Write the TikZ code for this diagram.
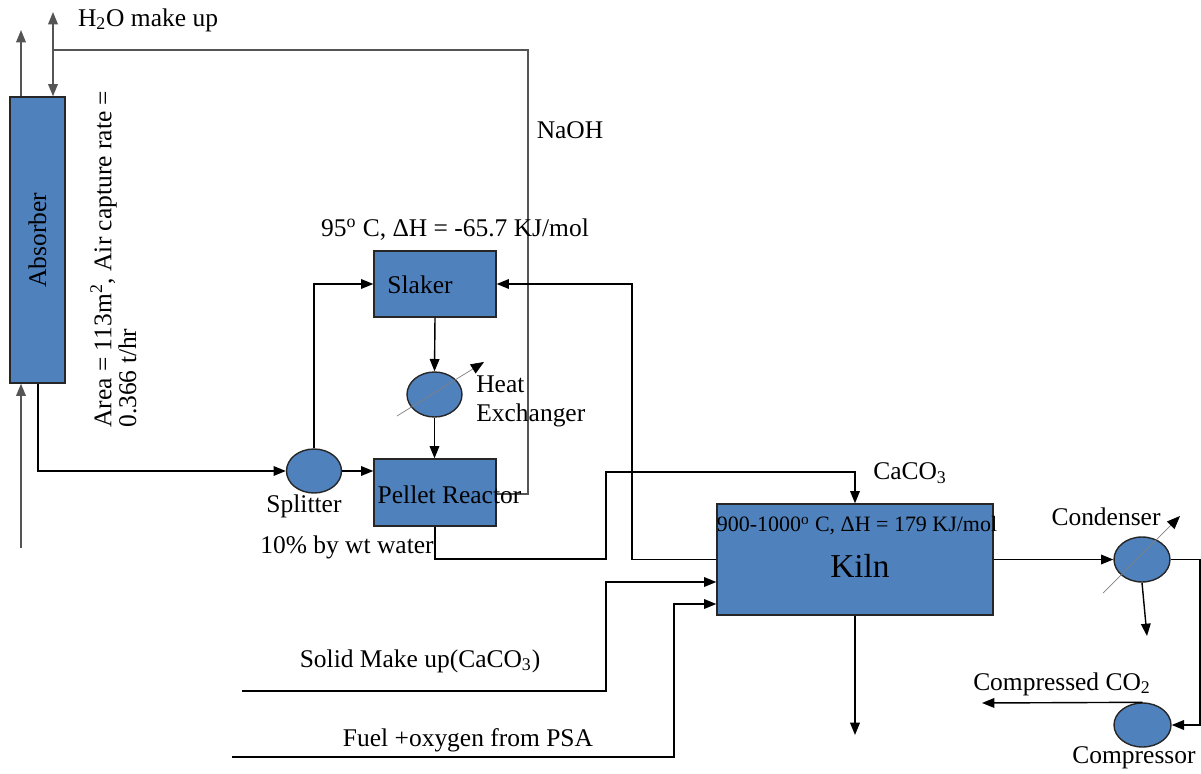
\documentclass[tikz,border=0pt]{standalone}
\usepackage{fontspec}
\setmainfont{Liberation Serif}
\usetikzlibrary{arrows.meta,shapes.geometric,calc}
\definecolor{boxblue}{HTML}{4F81BD}
\definecolor{lgray}{HTML}{555555}
\begin{document}
\begin{tikzpicture}[x=0.02cm,y=-0.02cm,
  unit/.style={draw=black!85,fill=boxblue,line width=0.8pt,inner sep=0pt},
  vessel/.style={unit,rectangle},
  round/.style={unit,ellipse},
  lbl/.style={font=\fontsize{14.5}{16}\selectfont,inner sep=0pt},
  flow/.style={line width=0.8pt,-{Triangle[length=7pt,width=5.5pt]}},
  pipe/.style={line width=0.8pt},
  gflow/.style={line width=0.8pt,draw=lgray},
  tflow/.style={line width=0.4pt,draw=gray,-{Triangle[length=7.5pt,width=6pt,color=black]}}
]
\useasboundingbox (0,0) rectangle (1201,774);

% units
\node[vessel,minimum width=1.1cm,minimum height=5.72cm] (absorber) at (37.5,240) {};
\node[lbl,rotate=90] at (absorber) {Absorber};
\node[vessel,minimum width=2.44cm,minimum height=1.32cm] (slaker) at (435,284) {};
\node[vessel,minimum width=2.44cm,minimum height=1.34cm] (pellet) at (435,492.5) {};
\node[vessel,minimum width=5.52cm,minimum height=2.22cm] (kiln) at (855,559.5) {};
\node[round,minimum width=1.1cm,minimum height=0.88cm] (splitter) at (314,471) {};
\node[round,minimum width=1.1cm,minimum height=0.9cm] (hx) at (434.5,394.5) {};
\node[round,minimum width=1.12cm,minimum height=0.9cm] (cond) at (1142,559.5) {};
\node[round,minimum width=1.14cm,minimum height=0.88cm] (comp) at (1142.5,725) {};

% coordinates
\coordinate (a1) at (21,30);
\coordinate (h2otop) at (53,12);
\coordinate (n1) at (53,50);
\coordinate (n2) at (528,494);
\coordinate (airin) at (21,548);
\coordinate (aout) at (38,472);
\coordinate (p1) at (606,559);
\coordinate (p2) at (606,472);
\coordinate (k1) at (632,559.5);
\coordinate (s0) at (242,691);
\coordinate (s1) at (606,691);
\coordinate (f0) at (232,757);
\coordinate (f1) at (674,757);
\coordinate (kout) at (855,735);
\coordinate (c1) at (1200,559.5);
\coordinate (cdrop) at (1147,636);
\coordinate (co2) at (982,703);

% connectors
\draw[flow,lgray] (absorber.north -| a1) -- (a1);
\draw[gflow,{Triangle[length=7pt,width=5.5pt]}-{Triangle[length=7pt,width=5.5pt]}] (h2otop) -- (absorber.north -| h2otop);
\draw[gflow] (n1) -| (n2) -- (pellet.east |- n2);
\draw[flow,lgray] (airin) -- (absorber.south -| airin);
\draw[flow] (absorber.south -| aout) |- (splitter.west);
\draw[flow] (splitter.north) |- (slaker.west);
\draw[flow] (splitter.east) -- (splitter.east -| pellet.west);
\draw[flow] (slaker.south) -- (hx.north);
\draw[flow] (hx.south) -- (hx.south |- pellet.north);
\draw[tflow] ($(hx)+(-37.5,21.5)$) -- ($(hx)+(49.5,-32.5)$);
\draw[flow] (pellet.south) |- (p1) -- (p2) -| (kiln.north);
\draw[flow] (kiln.west) -- (k1) |- (slaker.east);
\draw[flow] (s0) -- (s1) |- ($(kiln.west)+(0,22.5)$);
\draw[flow] (f0) -- (f1) |- ($(kiln.west)+(0,44.5)$);
\draw[flow] (kiln.south) -- (kout);
\draw[flow] (kiln.east) -- (cond.west);
\draw[tflow] ($(cond)+(-39,33.5)$) -- ($(cond)+(38,-43.5)$);
\draw[flow] (cond.south) -- (cdrop);
\draw[flow] (cond.east) -- (c1) |- (comp.east);
\draw[flow] (comp.north) -- (co2);

% labels
\node[lbl] (lh2o) at (148,20) {H\textsubscript{2}O make up};
\node[lbl] (lnaoh) at (570,130) {NaOH};
\node[lbl] (lslk) at (455,230) {95\textsuperscript{o} C, ΔH = -65.7 KJ/mol};
\node[lbl,rotate=90,anchor=north west,align=left,font=\fontsize{14.5}{11.5}\selectfont] (larea) at (90,428) {Area = 113m\textsuperscript{2}, Air capture rate =\\0.366 t/hr};
\node[lbl] (lslaker) at (420,285) {Slaker};
\node[lbl,anchor=west,align=left,font=\fontsize{14.5}{16.5}\selectfont] (lhx) at (476,401) {Heat\\Exchanger};
\node[lbl] (lpellet) at (449.5,495) {Pellet Reactor};
\node[lbl] (lsplit) at (304,506) {Splitter};
\node[lbl] (lwater) at (347,547) {10\% by wt water};
\node[lbl] (lcaco) at (910,473) {CaCO\textsubscript{3}};
\node[lbl,font=\fontsize{12.5}{14}\selectfont] (lkilnT) at (857,526) {900-1000\textsuperscript{o} C, ΔH = 179 KJ/mol};
\node[lbl,font=\fontsize{19}{22}\selectfont] (lkiln) at (860,566) {Kiln};
\node[lbl] (lcond) at (1106,517) {Condenser};
\node[lbl] (lco2) at (1062,684) {Compressed CO\textsubscript{2}};
\node[lbl] (lcomp) at (1134,758) {Compressor};
\node[lbl] (lsolid) at (420,661) {Solid Make up(CaCO\textsubscript{3})};
\node[lbl] (lfuel) at (468,740) {Fuel +oxygen from PSA};
\end{tikzpicture}
\end{document}
